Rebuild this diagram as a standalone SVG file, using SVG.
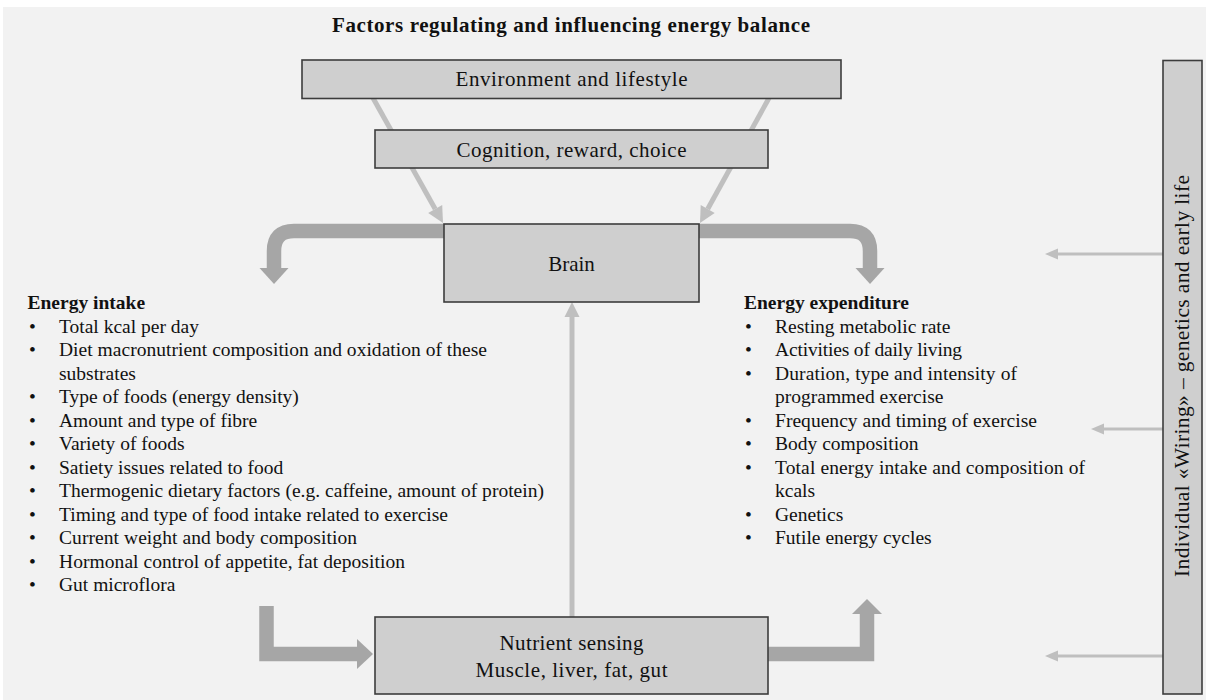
<svg xmlns="http://www.w3.org/2000/svg" width="1206" height="700" viewBox="0 0 1206 700">
<style>
.box{fill:#cfcfcf;stroke:#3c3c3c;stroke-width:1.6}
.bt{font-family:"Liberation Serif","Times New Roman",serif;font-size:21px;fill:#111;text-anchor:middle}
.tx{font-family:"Liberation Serif","Times New Roman",serif;font-size:19.5px;fill:#111}
.hd{font-family:"Liberation Serif","Times New Roman",serif;font-size:19.5px;font-weight:bold;fill:#111}
.thick{fill:none;stroke:#a6a6a6;stroke-width:14.5;stroke-linejoin:miter}
.thickh{fill:#a6a6a6}
.thin{fill:none;stroke:#bfbfbf;stroke-width:5}
.thinh{fill:#bfbfbf}
.hair{fill:none;stroke:#bfbfbf;stroke-width:3}
</style>
<rect x="3" y="7" width="1203" height="693" fill="#f2f2f2"/>
<g id="title">
<text x="571" y="32" text-anchor="middle" font-family="Liberation Serif, Times New Roman, serif" font-size="21" font-weight="bold" fill="#111" textLength="478" lengthAdjust="spacing">Factors regulating and influencing energy balance</text>
</g>
<g id="connectors">
<line class="thin" x1="373" y1="98" x2="435.2" y2="209"/>
<polygon class="thinh" points="443,223 428.2,213 442.2,205.1"/>
<line class="thin" x1="769" y1="98" x2="707.7" y2="209"/>
<polygon class="thinh" points="700,223 700.7,205.1 714.7,212.9"/>
<line class="thin" x1="572" y1="617" x2="572" y2="316"/>
<polygon class="thinh" points="572,302 564.5,317 579.5,317"/>
<path class="thick" d="M444 231 L294 231 Q274 231 274 251 L274 269"/>
<polygon class="thickh" points="259.5,268 288.5,268 274,284"/>
<path class="thick" d="M699 231 L850 231 Q870 231 870 251 L870 269"/>
<polygon class="thickh" points="855.5,268 884.5,268 870,284"/>
<path class="thick" d="M266.5 606 L266.5 654 L358 654"/>
<polygon class="thickh" points="357,639 373,654 357,669"/>
<path class="thick" d="M768 654 L867 654 L867 613"/>
<polygon class="thickh" points="852,614 882,614 867,599"/>
<line class="hair" x1="1163" y1="254" x2="1055" y2="254"/>
<polygon class="thinh" points="1045,254 1058,248.5 1058,259.5"/>
<line class="hair" x1="1163" y1="429" x2="1101" y2="429"/>
<polygon class="thinh" points="1091,429 1104,423.5 1104,434.5"/>
<line class="hair" x1="1163" y1="656" x2="1055" y2="656"/>
<polygon class="thinh" points="1045,656 1058,650.5 1058,661.5"/>
</g>
<g id="environment">
<rect class="box" x="302" y="60" width="539" height="38.5"/>
<text class="bt" x="571.5" y="86" textLength="232" lengthAdjust="spacing">Environment and lifestyle</text>
</g>
<g id="cognition">
<rect class="box" x="375" y="130" width="393" height="38"/>
<text class="bt" x="571.5" y="156.5" textLength="230" lengthAdjust="spacing">Cognition, reward, choice</text>
</g>
<g id="brain">
<rect class="box" x="444" y="224" width="255" height="78"/>
<text class="bt" x="571.5" y="271">Brain</text>
</g>
<g id="nutrient">
<rect class="box" x="375" y="617" width="393" height="77"/>
<text class="bt" x="571.5" y="650" textLength="144" lengthAdjust="spacing">Nutrient sensing</text>
<text class="bt" x="571.5" y="677" textLength="192" lengthAdjust="spacing">Muscle, liver, fat, gut</text>
</g>
<g id="wiring">
<rect class="box" x="1163" y="60.5" width="39" height="633.5"/>
<text transform="translate(1189,376) rotate(-90)" text-anchor="middle" font-family="Liberation Serif, Times New Roman, serif" font-size="21.5" fill="#111" textLength="402" lengthAdjust="spacing">Individual «Wiring» – genetics and early life</text>
</g>
<g id="energy-intake">
<text class="hd" x="27.5" y="309">Energy intake</text>
<text class="tx" x="29" y="332.5">•</text><text class="tx" x="59" y="332.5">Total kcal per day</text>
<text class="tx" x="29" y="356">•</text><text class="tx" x="59" y="356" textLength="428" lengthAdjust="spacing">Diet macronutrient composition and oxidation of these</text>
<text class="tx" x="59" y="379.5">substrates</text>
<text class="tx" x="29" y="403">•</text><text class="tx" x="59" y="403">Type of foods (energy density)</text>
<text class="tx" x="29" y="426.5">•</text><text class="tx" x="59" y="426.5">Amount and type of fibre</text>
<text class="tx" x="29" y="450">•</text><text class="tx" x="59" y="450">Variety  of foods</text>
<text class="tx" x="29" y="473.5">•</text><text class="tx" x="59" y="473.5">Satiety issues related to food</text>
<text class="tx" x="29" y="497">•</text><text class="tx" x="59" y="497" textLength="485" lengthAdjust="spacing">Thermogenic dietary factors (e.g. caffeine, amount of protein)</text>
<text class="tx" x="29" y="520.5">•</text><text class="tx" x="59" y="520.5" textLength="389" lengthAdjust="spacing">Timing and type of food intake related to exercise</text>
<text class="tx" x="29" y="544">•</text><text class="tx" x="59" y="544" textLength="298" lengthAdjust="spacing">Current weight and body composition</text>
<text class="tx" x="29" y="567.5">•</text><text class="tx" x="59" y="567.5" textLength="346" lengthAdjust="spacing">Hormonal control of appetite, fat deposition</text>
<text class="tx" x="29" y="591">•</text><text class="tx" x="59" y="591">Gut microflora</text>
</g>
<g id="energy-expenditure">
<text class="hd" x="744" y="309">Energy expenditure</text>
<text class="tx" x="745" y="332.5">•</text><text class="tx" x="775" y="332.5">Resting metabolic rate</text>
<text class="tx" x="745" y="356">•</text><text class="tx" x="775" y="356" textLength="187" lengthAdjust="spacing">Activities of daily living</text>
<text class="tx" x="745" y="379.5">•</text><text class="tx" x="775" y="379.5" textLength="242" lengthAdjust="spacing">Duration, type and intensity of</text>
<text class="tx" x="775" y="403">programmed exercise</text>
<text class="tx" x="745" y="426.5">•</text><text class="tx" x="775" y="426.5" textLength="262" lengthAdjust="spacing">Frequency and timing of exercise</text>
<text class="tx" x="745" y="450">•</text><text class="tx" x="775" y="450">Body composition</text>
<text class="tx" x="745" y="473.5">•</text><text class="tx" x="775" y="473.5" textLength="310" lengthAdjust="spacing">Total energy intake and composition of</text>
<text class="tx" x="775" y="497">kcals</text>
<text class="tx" x="745" y="520.5">•</text><text class="tx" x="775" y="520.5">Genetics</text>
<text class="tx" x="745" y="544">•</text><text class="tx" x="775" y="544">Futile energy cycles</text>
</g>
</svg>
